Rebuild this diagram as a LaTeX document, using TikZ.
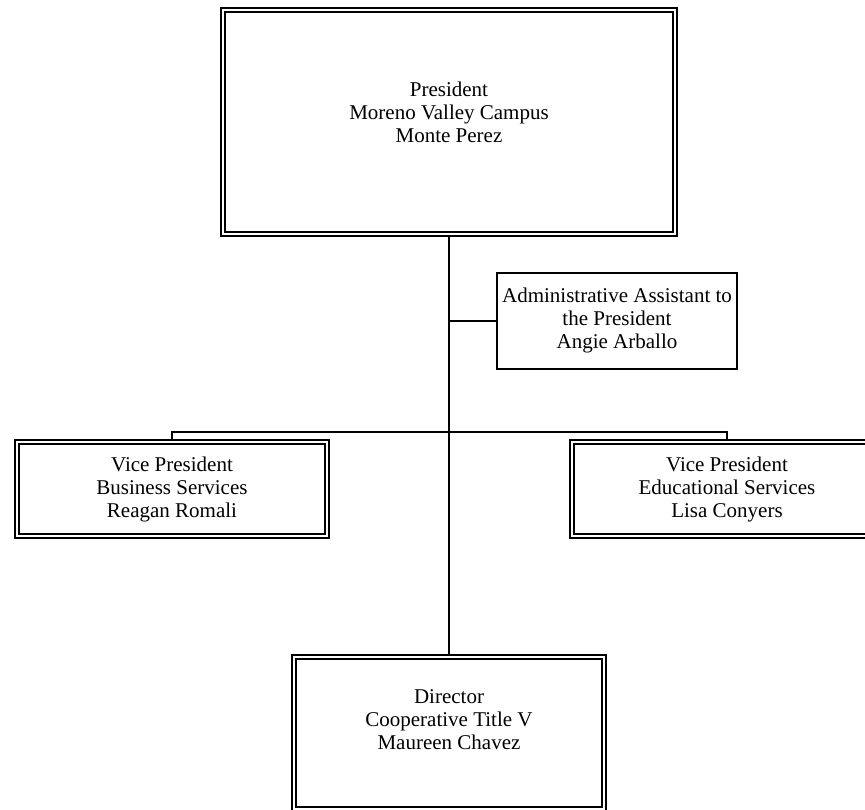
\documentclass[tikz,border=0pt]{standalone}
\usepackage{fontspec}
\setmainfont{Liberation Serif}
\begin{document}
\begin{tikzpicture}[x=1pt,y=1pt,
  box/.style={draw, line width=2pt, inner sep=0pt, outer sep=0pt, minimum width=#1},
  inbox/.style={draw, line width=1.8pt},
  txt/.style={align=center, font=\fontsize{21}{23}\selectfont, inner sep=0pt},
  conn/.style={line width=2pt}]
\useasboundingbox (0,0) rectangle (865,809);
\clip (0,0) rectangle (865,809);
\fill[white] (0,0) rectangle (865,809);
% boxes
\node[box=456pt, minimum height=228pt] (top) at (449,687) {};
\node[draw, line width=2pt, minimum width=240pt, minimum height=96pt, inner sep=0pt, outer sep=0pt] (admin) at (617,488) {};
\node[box=314pt, minimum height=98pt] (lvp) at (172,320) {};
\node[box=314pt, minimum height=98pt] (rvp) at (727,320) {};
\node[box=314pt, minimum height=156pt] (dir) at (449,76) {};
\foreach \n in {top,lvp,rvp,dir}{
  \draw[inbox] ([shift={(4,-4)}]\n.north west) rectangle ([shift={(-4,4)}]\n.south east);
}
% texts
\node[txt] (ttop) at (449,697) {President\\Moreno Valley Campus\\Monte Perez};
\node[txt] (tadmin) at (617,488.5) {Administrative Assistant to\\the President\\Angie Arballo};
\node[txt] (tlvp) at (172,320) {Vice President\\Business Services\\Reagan Romali};
\node[txt] (trvp) at (727,320) {Vice President\\Educational Services\\Lisa Conyers};
\node[txt] (tdir) at (449,89) {Director\\Cooperative Title V\\Maureen Chavez};
% connectors
\coordinate (barL) at (172,377);
\coordinate (barR) at (727,377);
\draw[conn] (top.south) -- (dir.north);
\draw[conn] (lvp.north) -- (barL) -- (barR) -- (rvp.north);
\draw[conn] (admin.west) -- (admin.west -| top.south);
\end{tikzpicture}
\end{document}
